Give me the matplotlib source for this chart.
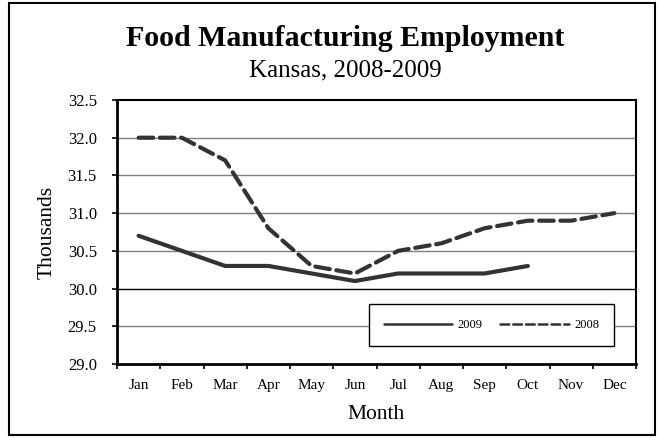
import matplotlib.pyplot as plt
from matplotlib.patches import Rectangle

plt.rcParams['font.family'] = ['Liberation Serif', 'DejaVu Serif']

# data
months = ['Jan', 'Feb', 'Mar', 'Apr', 'May', 'Jun', 'Jul', 'Aug', 'Sep', 'Oct', 'Nov', 'Dec']
emp_2008 = [32.0, 32.0, 31.7, 30.8, 30.3, 30.2, 30.5, 30.6, 30.8, 30.9, 30.9, 31.0]
emp_2009 = [30.7, 30.5, 30.3, 30.3, 30.2, 30.1, 30.2, 30.2, 30.2, 30.3]
y_ticks = [29.0, 29.5, 30.0, 30.5, 31.0, 31.5, 32.0, 32.5]

fig = plt.figure(figsize=(6.58, 4.38), dpi=100)
ax = fig.add_axes([117 / 658, 1 - 364 / 438, 519 / 658, 264 / 438])

# outer border
fig.patches.append(Rectangle((9 / 658, 3 / 438), 646 / 658, 432 / 438,
                             transform=fig.transFigure, fill=False,
                             edgecolor='black', linewidth=1.5))

x = list(range(len(months)))
for yv in y_ticks[1:-1]:
    ax.axhline(yv, color='black' if yv == 30.0 else '#808080', linewidth=1, zorder=1)

ax.plot(x[:len(emp_2009)], emp_2009, color='#333333', linewidth=3,
        solid_capstyle='round', solid_joinstyle='round', label='2009', zorder=3)
ax.plot(x, emp_2008, color='#333333', linewidth=3, linestyle=(0, (3.5, 1.6)),
        dash_capstyle='round', label='2008', zorder=3)

ax.set_xlim(-0.5, 11.5)
ax.set_ylim(29.0, 32.5)
ax.set_yticks(y_ticks)
ax.set_yticklabels([f'{v:.1f}' for v in y_ticks], fontsize=12)
ax.set_xticks([i - 0.5 for i in range(13)])
ax.set_xticklabels([])
ax.set_xticks(x, minor=True)
ax.set_xticklabels(months, minor=True, fontsize=11)
ax.tick_params(axis='x', which='minor', length=0, pad=11)
ax.tick_params(axis='x', which='major', length=3.5, width=1.2, direction='out')
ax.tick_params(axis='y', length=3.5, width=1.2, direction='out', pad=11)

for side in ['left', 'bottom']:
    ax.spines[side].set_linewidth(2)
for side in ['top', 'right']:
    ax.spines[side].set_linewidth(1.5)

ax.set_ylabel('Thousands', fontsize=15.5, labelpad=8)
ax.set_xlabel('Month', fontsize=15.5, labelpad=9.5)

fig.text(345 / 658, 1 - 39 / 438, 'Food Manufacturing Employment', fontsize=21.5,
         fontweight='bold', ha='center', va='center')
fig.text(345 / 658, 1 - 70 / 438, 'Kansas, 2008-2009', fontsize=18,
         ha='center', va='center')

leg = ax.legend(loc='lower right', bbox_to_anchor=(497 / 519, 18 / 264), ncol=2,
                fontsize=9, frameon=True, fancybox=False, handlelength=5.5,
                columnspacing=1.44, borderpad=1.2, handletextpad=0.4,
                borderaxespad=0)
leg.get_frame().set_edgecolor('black')
leg.get_frame().set_linewidth(1)
leg.get_frame().set_alpha(1)
for h in leg.get_lines():
    h.set_linewidth(1.8)

fig.savefig('out.png', dpi=100)
